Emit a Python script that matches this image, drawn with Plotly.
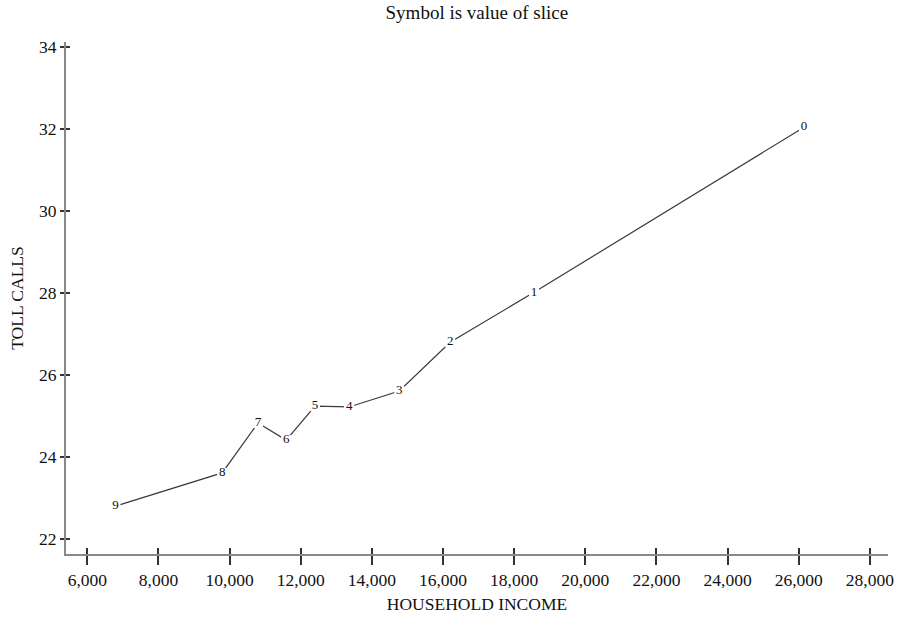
import plotly.graph_objects as go

slice_labels = ["0", "1", "2", "3", "4", "5", "6", "7", "8", "9"]
household_income = [26150, 18560, 16200, 14770, 13360, 12400, 11590, 10800, 9790, 6790]
toll_calls = [32.05, 28.02, 26.80, 25.61, 25.22, 25.24, 24.41, 24.83, 23.61, 22.80]

x_ticks = list(range(6000, 28001, 2000))
y_ticks = list(range(22, 35, 2))

FONT = "Liberation Serif, DejaVu Serif, serif"

fig = go.Figure()
fig.add_trace(go.Scatter(
    x=household_income, y=toll_calls, mode="lines+markers+text",
    text=slice_labels, textposition="middle center",
    textfont=dict(family=FONT, size=13, color="#111"),
    line=dict(color="#3a3a3a", width=1.2),
    marker=dict(symbol="square", size=10, color="white", line=dict(width=0)),
    showlegend=False, hoverinfo="skip",
))
# invisible trace for overlay axes (inner half of crossing ticks)
fig.add_trace(go.Scatter(x=[household_income[0]], y=[toll_calls[0]], xaxis="x2", yaxis="y2",
                         mode="markers", marker=dict(opacity=0), showlegend=False, hoverinfo="skip"))

xr = [5400, 28510]
yr = [21.63, 34.13]

fig.update_layout(
    width=898, height=619,
    margin=dict(l=66, r=10, t=42, b=65, autoexpand=False),
    paper_bgcolor="white", plot_bgcolor="white",
    title=dict(text="Symbol is value of slice", x=0.531, xanchor="center", y=0.98, yanchor="middle",
               font=dict(family=FONT, size=19, color="#111")),
    font=dict(family=FONT, color="#111"),
    xaxis=dict(range=xr, tickvals=x_ticks, tickformat=",d", ticks="outside", ticklen=9,
               tickwidth=1.6, tickcolor="#333", showline=True, linecolor="#888", linewidth=2,
               showgrid=False, zeroline=False, tickfont=dict(size=17.5), automargin=False,
               title=dict(text="HOUSEHOLD INCOME", font=dict(size=17.5), standoff=9)),
    yaxis=dict(range=yr, tickvals=y_ticks, ticks="outside", ticklen=4,
               tickwidth=1.6, tickcolor="#333", showline=True, linecolor="#888", linewidth=2,
               showgrid=False, zeroline=False, tickfont=dict(size=17.5), automargin=False,
               title=dict(text="TOLL CALLS", font=dict(size=17.5), standoff=11)),
    xaxis2=dict(range=xr, overlaying="x", anchor="y", side="bottom", tickvals=x_ticks,
                ticks="inside", ticklen=6, tickwidth=1.6, tickcolor="#333", automargin=False,
                showticklabels=False, showline=False, showgrid=False, zeroline=False),
    yaxis2=dict(range=yr, overlaying="y", anchor="x", side="left", tickvals=y_ticks,
                ticks="inside", ticklen=4, tickwidth=1.6, tickcolor="#333", automargin=False,
                showticklabels=False, showline=False, showgrid=False, zeroline=False),
)

fig.write_html("out.html")
